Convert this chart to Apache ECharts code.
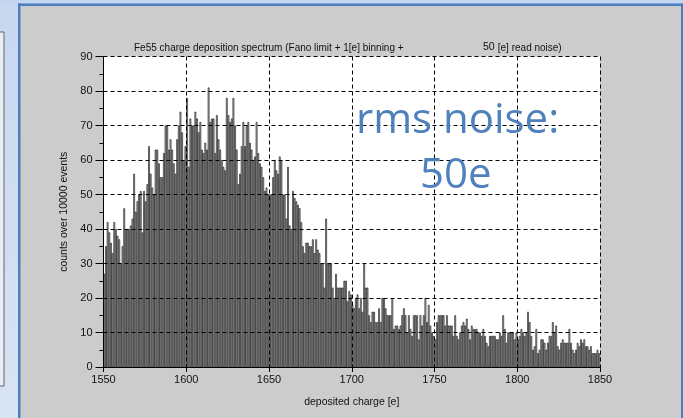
<!DOCTYPE html>
<html>
<head>
<meta charset="utf-8">
<script src="https://cdn.jsdelivr.net/npm/echarts@6/dist/echarts.min.js"></script>
<style>
html,body{margin:0;padding:0;background:#cccccc;}
#chart{width:683px;height:418px;}
</style>
</head>
<body>
<div id="chart"></div>
<script>
// ---- data ----
const firstBin = 1550;      // left edge of first 1[e] bin
const binWidth = 1;         // [e]
// counts per 1[e] bin, 1550 ... 1849
const countsRise = [27,35,42,39,36,33,42,40,38,37,30,35,46,40,40,40,41,43,56,45,48,50,51,39,51,48,53,64,56,52,50,63,63,59,55,55,62,70,70,63,66,63,59,56,66,70,74,68,60,64,78,58,72,70,70,74,72,68,71,63,62,65,63,81];
const countsPeak = [71,72,72,62,73,66,63,60,58,57,78,73,71,72,78,70,63,53,56,64,71,64,70,71,65,63,60,61,71,62,59,58,55,51,52,50,50,50,55,60,57,56,61,60,50,50,43,58,41,40,51,49,48,47];
const countsFall = [46,42,35,33,36,36,35,35,37,33,37,34,33,30,30,23,43,30,30,30,23,20,27,23,23,23,23,25,25,19,22,21,18,17,20,21,17,20,16,30,23,23,15,13,16,16,13,13,17,13,20,20,17,15,15,15,20,11,12,12,11];
const countsTail1 = [12,15,17,15,10,15,11,9,15,15,15,8,15,12,15,20,13,18,12,10,9,8,13,15,15,15,15,12,15,12,12,12,9,15,9,8,10,12,13,12,14,11,8,12,11,11,11,10,10,9,11,9,7,6,9,9,9,9,8,8,10];
const countsTail2 = [9,15,11,7,10,10,10,10,8,10,8,9,11,10,9,10,16,13,9,5,6,11,4,5,8,8,7,5,7,9,9,13,10,12,6,5,7,8,7,7,7,11,7,5,4,5,7,6,8,7,8,6,6,5,6,4,4,4,5,4];
const counts = [].concat(countsRise, countsPeak, countsFall, countsTail1, countsTail2);
const xTicks = [1550,1600,1650,1700,1750,1800,1850];
const yTicks = [0,10,20,30,40,50,60,70,80,90];
const titleMain = 'Fe55 charge deposition spectrum (Fano limit + 1[e] binning +';
const titleNoise = '50';
const titleTail = ' [e] read noise)';
const xName = 'deposited charge [e]';
const yName = 'counts over 10000 events';
const note1 = 'rms noise:';
const note2 = '50e';

const barData = counts.map((c, i) => [firstBin + i * binWidth + binWidth / 2, c]);

const chart = echarts.init(document.getElementById('chart'), null, {renderer: 'canvas'});
const font = '"Liberation Sans", Arial, sans-serif';

chart.setOption({
  backgroundColor: '#cccccc',
  animation: false,
  title: [
    {text: titleMain, left: 129, top: 38, textStyle: {fontFamily: font, fontSize: 10, fontWeight: 'normal', color: '#111'}},
    {text: titleNoise, left: 478, top: 37, textStyle: {fontFamily: font, fontSize: 10.5, fontWeight: 'normal', color: '#111'}},
    {text: titleTail, left: 490, top: 38, textStyle: {fontFamily: font, fontSize: 10, fontWeight: 'normal', color: '#111'}}
  ],
  grid: {left: 103.5, right: 83, top: 56.5, bottom: 51, backgroundColor: '#ffffff', show: true, borderWidth: 0},
  xAxis: {
    type: 'value', min: xTicks[0], max: xTicks[xTicks.length - 1], interval: 50, z: 5,
    name: xName, nameLocation: 'middle', nameGap: 30,
    nameTextStyle: {fontFamily: font, fontSize: 10.5, color: '#111'},
    axisLine: {show: true, onZero: false, lineStyle: {color: '#000', width: 1}},
    axisTick: {show: true, inside: false, length: 5, lineStyle: {color: '#000'}},
    axisLabel: {fontFamily: font, fontSize: 11, color: '#111', margin: 7, formatter: v => String(v)},
    splitLine: {show: true, lineStyle: {color: '#000', type: [4, 3], width: 1}}
  },
  yAxis: {
    type: 'value', min: yTicks[0], max: yTicks[yTicks.length - 1], interval: 10, z: 5,
    name: yName, nameLocation: 'middle', nameGap: 34,
    nameTextStyle: {fontFamily: font, fontSize: 10.5, color: '#111'},
    axisLine: {show: true, lineStyle: {color: '#000', width: 1}},
    axisTick: {show: true, length: 8, lineStyle: {color: '#000'}},
    minorTick: {show: true, splitNumber: 2, length: 4, lineStyle: {color: '#000'}},
    axisLabel: {fontFamily: font, fontSize: 11, color: '#111', margin: 11, formatter: v => String(v)},
    splitLine: {show: true, lineStyle: {color: '#000', type: [4, 3], width: 1}}
  },
  series: [{
    type: 'bar',
    data: barData,
    barCategoryGap: '0%',
    barWidth: '100%',
    itemStyle: {color: '#d6d6d6', borderColor: '#000', borderWidth: 0.6},
    silent: true
  }],
  graphic: [
    {type: 'rect', shape: {x: 0, y: 0, width: 18, height: 418}, style: {fill: new echarts.graphic.LinearGradient(0, 0, 0, 1, [{offset: 0, color: '#c8d8f0'}, {offset: 1, color: '#d8e3f3'}])}, z: 1},
    {type: 'rect', shape: {x: 0, y: 0, width: 683, height: 4}, style: {fill: '#c4d6f0'}, z: 1},
    {type: 'rect', shape: {x: -3, y: 32, width: 7, height: 354}, style: {fill: '#e9eef6', stroke: '#666', lineWidth: 1}, z: 2},
    {type: 'rect', shape: {x: 18, y: 3.5, width: 2.5, height: 418}, style: {fill: '#4a7ec0'}, z: 3},
    {type: 'rect', shape: {x: 18, y: 3.5, width: 665, height: 2.5}, style: {fill: '#4a7ec0'}, z: 3},
    {type: 'rect', shape: {x: 681, y: 3.5, width: 2, height: 418}, style: {fill: '#4a7ec0'}, z: 3},
    {type: 'text', x: 356, y: 100, style: {text: note1, font: '42px "Open Sans", sans-serif', fill: '#4f81bd'}, z: 10},
    {type: 'text', x: 420, y: 155, style: {text: note2, font: '42px "Open Sans", sans-serif', fill: '#4f81bd'}, z: 10}
  ]
});
</script>
</body>
</html>
